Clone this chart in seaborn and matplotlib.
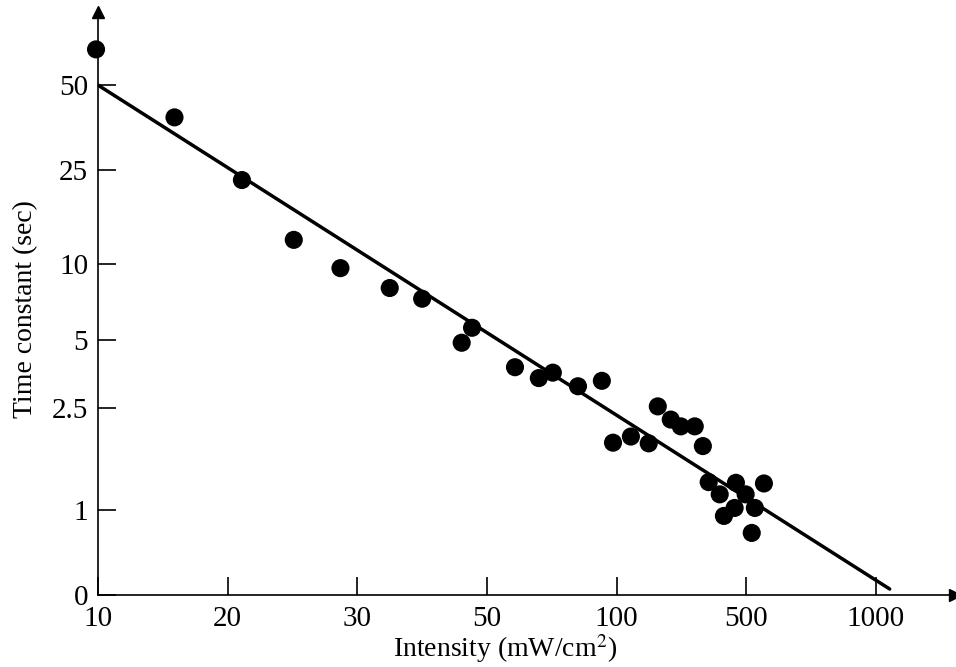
import numpy as np
import pandas as pd
import matplotlib
matplotlib.use("Agg")
import matplotlib.pyplot as plt
import seaborn as sns

# ---- data ----
intensity = [9.85, 15.9, 21.1, 25.1, 28.7, 35.0, 40.0, 46.1, 47.7, 60.8,
             70.0, 75.4, 85.1, 94.3, 98.6, 144, 199, 227, 267, 298,
             341, 366, 384, 418, 431, 468, 464, 498, 521, 533, 568]
time_const = [60.5, 40.5, 23.4, 13.8, 9.7, 8.4, 7.7, 4.9, 5.8, 4.0,
              3.6, 3.8, 3.3, 3.5, 1.99, 2.08, 1.98, 2.56, 2.33, 2.23,
              2.23, 1.94, 1.41, 1.23, 0.93, 1.40, 1.03, 1.23, 0.73, 1.03, 1.39]
fit_intensity = [10, 1053]
fit_time = [50, 0.07]

x_tick_values = [10, 20, 30, 50, 100, 500, 1000]
y_tick_values = [0, 1, 2.5, 5, 10, 25, 50]
x_tick_labels = ["10", "20", "30", "50", "100", "500", "1000"]
y_tick_labels = ["0", "1", "2.5", "5", "10", "25", "50"]

# axis scale breakpoints (the original uses irregular, hand-drawn scales)
x_break = [0, 1, 2, 3, 4, 5, 6]
y_break = [0, 1, 2.2, 3.0, 3.9, 5.0, 6.0]


def make_map(xp, fp):
    xp = np.asarray(xp, float)
    fp = np.asarray(fp, float)

    def f(v):
        v = np.asarray(v, float)
        out = np.interp(v, xp, fp)
        lo_s = (fp[1] - fp[0]) / (xp[1] - xp[0])
        hi_s = (fp[-1] - fp[-2]) / (xp[-1] - xp[-2])
        out = np.where(v < xp[0], fp[0] + (v - xp[0]) * lo_s, out)
        out = np.where(v > xp[-1], fp[-1] + (v - xp[-1]) * hi_s, out)
        return out
    return f


df = pd.DataFrame({"Intensity": intensity, "Time": time_const})
fit = pd.DataFrame({"Intensity": fit_intensity, "Time": fit_time})

sns.set_theme(style="ticks")
plt.rcParams["font.family"] = ["Liberation Serif", "DejaVu Serif"]
plt.rcParams["mathtext.fontset"] = "stix"

fig = plt.figure(figsize=(9.56, 6.67), dpi=100)
ax = fig.add_axes([0.1025, 0.108, 0.8965, 0.874])

ax.set_xscale("function", functions=(make_map(x_tick_values, x_break),
                                     make_map(x_break, x_tick_values)))
ax.set_yscale("function", functions=(make_map(y_tick_values, y_break),
                                     make_map(y_break, y_tick_values)))

sns.lineplot(data=fit, x="Intensity", y="Time", color="black", lw=2.5, ax=ax)
sns.scatterplot(data=df, x="Intensity", y="Time", color="black", s=170,
                edgecolor="none", ax=ax, clip_on=False, zorder=3)

ax.set_xlim(10, 1305)
ax.set_ylim(0, 71.5)
ax.set_xticks(x_tick_values)
ax.set_xticklabels(x_tick_labels)
ax.set_yticks(y_tick_values)
ax.set_yticklabels(y_tick_labels)
ax.minorticks_off()

ax.tick_params(axis="both", direction="in", length=13, width=1.2,
               color="black", labelsize=21, labelcolor="black")
ax.tick_params(axis="x", pad=8)
ax.tick_params(axis="y", pad=7)

for side in ["top", "right"]:
    ax.spines[side].set_visible(False)
for side in ["left", "bottom"]:
    ax.spines[side].set_color("black")
    ax.spines[side].set_linewidth(1.2)

# arrow heads at axis ends
ax.plot(1, 0, marker=">", color="black", markersize=9,
        transform=ax.transAxes, clip_on=False)
ax.plot(0, 1, marker="^", color="black", markersize=9,
        transform=ax.transAxes, clip_on=False)

ax.set_xlabel("Intensity (mW/cm$^2$)", fontsize=20, color="black")
ax.set_ylabel("Time constant (sec)", fontsize=20, color="black")
ax.xaxis.set_label_coords(0.475, -0.064)
ax.yaxis.set_label_coords(-0.07, 0.49)

fig.savefig("out.png", dpi=100, facecolor="white")
